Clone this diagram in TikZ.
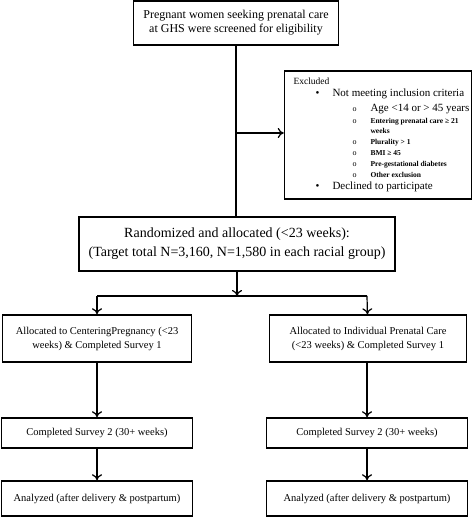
\documentclass[tikz,border=0pt]{standalone}
\usepackage{fontspec}
\setmainfont{Liberation Serif}
\usetikzlibrary{positioning, arrows.meta, calc}

\newcommand{\lvlone}[1]{\hspace*{29.5pt}\makebox[17pt][l]{\textbullet}{#1}}
\newcommand{\lvltwo}[1]{\hspace*{66.5pt}\makebox[18pt][l]{\fontsize{8}{9}\selectfont o}{#1}}
\newcommand{\smallitem}[1]{\lvltwo{\fontsize{7.5}{9}\selectfont\bfseries #1}}

\tikzset{
  box/.style={draw, line width=1.5pt, align=center, inner sep=2pt},
  flow/.style={line width=1.2pt, -{To[length=6pt,width=10pt]}},
  link/.style={line width=1.2pt},
}

\begin{document}
\begin{tikzpicture}[x=1pt,y=-1pt]
\useasboundingbox (0,0) rectangle (473,526);

% Screening and exclusion
\node[box, minimum width=205pt, minimum height=44pt, font=\fontsize{12}{14}\selectfont] (screen) at (236,23)
  {Pregnant women seeking prenatal care\\at GHS were screened for eligibility};
\node[box, minimum width=187pt, minimum height=128pt, text width=184pt, inner xsep=1.5pt, align=flush left,
      font=\fontsize{11}{11}\selectfont] (excl) at (378,135) {%
  \hspace*{7.5pt}{\fontsize{9.5}{11}\selectfont Excluded}\\[1pt]
  \lvlone{Not meeting inclusion criteria}\\[4pt]
  \lvltwo{Age <14 or > 45 years}\\[1pt]
  \smallitem{Entering prenatal care ≥ 21}\\[-1pt]
  \hspace*{84.5pt}{\fontsize{7.5}{9}\selectfont\bfseries weeks}\\
  \smallitem{Plurality > 1}\\
  \smallitem{BMI ≥ 45}\\
  \smallitem{Pre-gestational diabetes}\\
  \smallitem{Other exclusion}\\[1pt]
  \lvlone{Declined to participate}};

% Randomization
\node[box, minimum width=316pt, minimum height=54pt, font=\fontsize{14}{19}\selectfont] (rand) at (237,244)
  {Randomized and allocated (<23 weeks):\\(Target total N=3,160, N=1,580 in each racial group)};

% Two arms
\node[box, minimum width=189pt, minimum height=47pt, font=\fontsize{10.5}{14}\selectfont] (cp1) at (97,338.5)
  {Allocated to CenteringPregnancy (<23\\weeks) \& Completed Survey 1};
\node[box, minimum width=197pt, minimum height=47pt, font=\fontsize{10.5}{14}\selectfont] (ipc1) at (368,338.5)
  {Allocated to Individual Prenatal Care\\(<23 weeks) \& Completed Survey 1};
\node[box, minimum width=191pt, minimum height=30pt, font=\fontsize{10.5}{14}\selectfont] (cp2) at (97,433)
  {Completed Survey 2 (30+ weeks)};
\node[box, minimum width=201pt, minimum height=30pt, font=\fontsize{10.5}{14}\selectfont] (ipc2) at (367,433)
  {Completed Survey 2 (30+ weeks)};
\node[box, minimum width=191pt, minimum height=35pt, font=\fontsize{10.5}{14}\selectfont] (cp3) at (97,498.5)
  {Analyzed (after delivery \& postpartum)};
\node[box, minimum width=201pt, minimum height=35pt, font=\fontsize{10.5}{14}\selectfont] (ipc3) at (367,498.5)
  {Analyzed (after delivery \& postpartum)};

% Connectors
\coordinate (tap) at (236,133);
\coordinate (fork) at (237,296);
\draw[link] (screen.south) -- (screen.south |- rand.north);
\draw[flow] (tap) -- (tap -| excl.west);
\draw[flow] (rand) -- (fork);
\draw[link] (fork -| cp1) -- (fork -| ipc2);
\draw[flow] (fork -| cp1) -- (cp1);
\draw[flow] (fork -| ipc2) -- (ipc1);
\draw[flow] (cp1) -- (cp2);
\draw[flow] (cp2) -- (cp3);
\draw[flow] (ipc1.south -| ipc2) -- (ipc2);
\draw[flow] (ipc2) -- (ipc3);
\end{tikzpicture}
\end{document}
